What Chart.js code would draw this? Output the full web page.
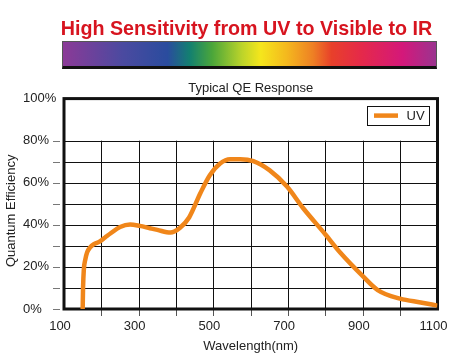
<!DOCTYPE html>
<html>
<head>
<meta charset="utf-8">
<script src="https://cdn.jsdelivr.net/npm/chart.js@4/dist/chart.umd.min.js"></script>
<style>
  html, body { margin: 0; padding: 0; background: #fff; overflow: hidden; }
  #wrap { position: relative; width: 450px; height: 362px; }
  #chart { position: absolute; left: 0; top: 0; }
  #banner {
    position: absolute; left: 46.5px; top: 18.2px; width: 400px;
    text-align: center; font: bold 19.7px 'Liberation Sans', Arial, sans-serif;
    line-height: 20px; color: #d7141f; white-space: nowrap;
  }
  #spectrum {
    position: absolute; left: 62px; top: 41px; width: 375px; height: 28px;
    box-sizing: border-box; border: 1px solid #555; border-bottom: 3px solid #111;
    background: linear-gradient(to right,
      #8b3a97 0%, #4b4aa0 16%, #2a4c9e 28%, #138070 34%, #4ba63a 40%,
      #bcd42a 48%, #f5e61c 53%, #f4b81e 60%, #ee8024 67%, #e8402a 72%,
      #e5294a 80%, #d4187a 91%, #9b3490 100%);
  }
</style>
</head>
<body>
<div id="wrap">
  <canvas id="chart" width="450" height="362"></canvas>
  <div id="banner">High Sensitivity from UV to Visible to IR</div>
  <div id="spectrum"></div>
</div>
<script>
// ---- data ----
const chartTitle = 'Typical QE Response';
const seriesLabel = 'UV';
const xAxisTitle = 'Wavelength(nm)';
const yAxisTitle = 'Quantum Efficiency';
const wavelengths = [150, 151, 153, 157, 162, 170, 180, 195, 210, 225, 250, 277, 303, 330, 350, 385, 410, 435, 465, 490, 518, 545, 572, 607, 650, 697, 740, 800, 840, 900, 940, 1000, 1055, 1100];
const qeUV = [0, 10, 18.5, 23.5, 27, 29.3, 30.8, 32, 34, 36, 39, 40.2, 39.5, 38.4, 37.6, 36.3, 38.5, 43.5, 55, 63.5, 69.2, 71.2, 71.2, 70.3, 66, 58.2, 48, 35.4, 26.7, 15.6, 9, 4.9, 3.1, 1.6];
const xTickLabels = [100, 300, 500, 700, 900, 1100];
const yTickLabels = [0, 20, 40, 60, 80, 100];
const xGridValues = [200, 300, 400, 500, 600, 700, 800, 900, 1000];
const yGridValues = [10, 20, 30, 40, 50, 60, 70, 80];
const yTickMarks = [0, 10, 20, 30, 40, 50, 60, 70, 80];
const xTickMarks = [200, 300, 400, 500, 600, 700, 800, 900, 1000];

const FONT = "'Liberation Sans', Arial, sans-serif";
Chart.defaults.font.family = FONT;
Chart.defaults.color = '#222';

const decor = {
  id: 'decor',
  beforeDatasetsDraw(chart) {
    const {ctx, chartArea: a, scales: {x, y}} = chart;
    ctx.save();
    ctx.lineWidth = 1;
    ctx.strokeStyle = '#111';
    ctx.beginPath();
    yGridValues.forEach(v => {
      const py = Math.round(y.getPixelForValue(v)) + 0.5;
      ctx.moveTo(a.left, py); ctx.lineTo(a.right, py);
    });
    const gTop = y.getPixelForValue(80);
    xGridValues.forEach(v => {
      const px = Math.round(x.getPixelForValue(v)) + 0.5;
      ctx.moveTo(px, gTop); ctx.lineTo(px, a.bottom);
    });
    ctx.stroke();
    // tick marks
    ctx.strokeStyle = '#777';
    ctx.beginPath();
    yTickMarks.forEach(v => {
      const py = Math.round(y.getPixelForValue(v)) + 0.5;
      ctx.moveTo(a.left - 11, py); ctx.lineTo(a.left - 4, py);
    });
    ctx.stroke();
    ctx.strokeStyle = '#555';
    ctx.beginPath();
    xTickMarks.forEach(v => {
      const px = Math.round(x.getPixelForValue(v)) + 0.5;
      ctx.moveTo(px, a.bottom); ctx.lineTo(px, a.bottom + 7);
    });
    ctx.stroke();
    // frame
    ctx.lineWidth = 3;
    ctx.strokeStyle = '#111';
    ctx.strokeRect(a.left, a.top, a.right - a.left, a.bottom - a.top);
    // y axis title
    ctx.fillStyle = '#222';
    ctx.font = '13px ' + FONT;
    ctx.textAlign = 'center';
    ctx.textBaseline = 'middle';
    ctx.translate(11.5, (a.top + a.bottom) / 2 + 7);
    ctx.rotate(-Math.PI / 2);
    ctx.fillText(yAxisTitle, 0, 0);
    ctx.restore();
  },
  afterDatasetsDraw(chart) {
    const {ctx, chartArea: a} = chart;
    const ds = chart.data.datasets[0];
    const bx = a.right - 70.5, by = a.top + 7, bw = 62, bh = 19;
    ctx.save();
    ctx.fillStyle = '#fff';
    ctx.fillRect(bx, by, bw, bh);
    ctx.lineWidth = 1;
    ctx.strokeStyle = '#111';
    ctx.strokeRect(Math.round(bx) + 0.5, Math.round(by) + 0.5, bw, bh);
    ctx.strokeStyle = ds.borderColor;
    ctx.lineWidth = 4.5;
    ctx.beginPath();
    ctx.moveTo(bx + 7, by + bh / 2 + 0.5);
    ctx.lineTo(bx + 31, by + bh / 2 + 0.5);
    ctx.stroke();
    ctx.fillStyle = '#222';
    ctx.font = '13px ' + FONT;
    ctx.textBaseline = 'middle';
    ctx.textAlign = 'left';
    ctx.fillText(ds.label, bx + 39.5, by + bh / 2 + 1);
    ctx.restore();
  }
};

new Chart(document.getElementById('chart'), {
  type: 'line',
  data: {
    datasets: [{
      label: seriesLabel,
      data: wavelengths.map((w, i) => ({x: w, y: qeUV[i]})),
      borderColor: '#f0861a',
      borderWidth: 4.5,
      pointRadius: 0,
      fill: false,
      cubicInterpolationMode: 'monotone'
    }]
  },
  options: {
    responsive: false,
    animation: false,
    layout: {padding: {left: 23, right: 12.5, top: 0, bottom: 0}},
    plugins: {
      legend: {display: false},
      tooltip: {enabled: false},
      title: {
        display: true, text: chartTitle, fullSize: false, color: '#222',
        font: {size: 13, weight: 'normal', family: FONT},
        padding: {top: 80.5, bottom: 2.5}
      }
    },
    scales: {
      x: {
        type: 'linear', min: 100, max: 1100,
        grid: {display: false, drawTicks: false},
        border: {display: false},
        ticks: {
          stepSize: 100, autoSkip: false, maxRotation: 0, padding: 10, labelOffset: -4,
          font: {size: 13}, color: '#222',
          callback: v => xTickLabels.includes(v) ? String(v) : ''
        },
        title: {display: true, text: xAxisTitle, color: '#222', font: {size: 13}, padding: {top: 0, bottom: 8}},
        afterFit: s => { s.height = 53; s.paddingLeft = 0; s.paddingRight = 0; }
      },
      y: {
        min: 0, max: 100,
        grid: {display: false, drawTicks: false},
        border: {display: false},
        ticks: {
          stepSize: 10, padding: 7, crossAlign: 'far', autoSkip: false,
          font: {size: 13}, color: '#222',
          callback: v => yTickLabels.includes(v) ? v + '%' : ''
        },
        title: {display: false},
        afterFit: s => { s.width = 41; s.paddingTop = 0; s.paddingBottom = 0; }
      }
    }
  },
  plugins: [decor]
});
</script>
</body>
</html>
